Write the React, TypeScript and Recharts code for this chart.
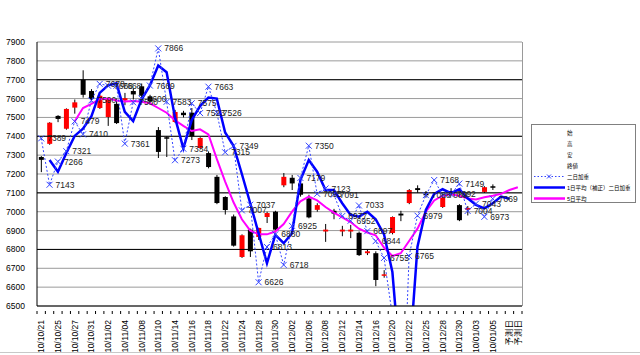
import React from "react";
import {
  ComposedChart,
  Bar,
  Line,
  XAxis,
  YAxis,
  CartesianGrid,
  ReferenceLine,
  LabelList,
} from "recharts";

const dates = [
  "10/10/21", "10/10/22", "10/10/25", "10/10/26", "10/10/27", "10/10/28", "10/10/31", "10/11/01",
  "10/11/02", "10/11/03", "10/11/04", "10/11/05", "10/11/08", "10/11/09", "10/11/10", "10/11/11",
  "10/11/14", "10/11/15", "10/11/16", "10/11/17", "10/11/18", "10/11/19", "10/11/22", "10/11/23",
  "10/11/24", "10/11/25", "10/11/28", "10/11/29", "10/11/30", "10/12/01", "10/12/02", "10/12/03",
  "10/12/06", "10/12/07", "10/12/08", "10/12/09", "10/12/12", "10/12/13", "10/12/14", "10/12/15",
  "10/12/16", "10/12/17", "10/12/20", "10/12/21", "10/12/22", "10/12/24", "10/12/25", "10/12/27",
  "10/12/28", "10/12/29", "10/12/30", "10/12/31", "10/01/03", "10/01/04", "10/01/05", "予測日",
  "予測日", "予測日",
];
// categories that carry a visible label
const shownTicks = [
  0, 2, 4, 6, 8, 10, 12, 14, 16, 18, 20, 22, 24, 26, 28, 30, 32, 34, 36, 38, 40, 42, 44, 46, 48,
  50, 52, 54, 56, 57,
];

const openVals = [
  7290, 7360, 7508, 7440, 7552, 7700, 7640, 7550, 7502, 7572, 7590, 7640, 7665, 7610, 7433, 7395,
  7476, 7525, 7525, 7338, 7311, 7185, 7078, 6975, 6760, 6905, 6866, 6972, 7000, 7140, 7180, 7150,
  7070, 7010, 6895, 7005, 6895, 6895, 6888, 6780, 6780, 6660, 6887, 6990, 7046, 7125, 7095, null,
  7025, 7110, 7035, 7010, null, 7105, 7135, null, null, null,
];
const highVals = [
  7295, 7475, 7512, 7548, 7595, 7750, 7650, 7620, 7600, 7600, 7630, 7655, 7680, 7620, 7449, 7400,
  7540, 7535, 7550, 7395, 7320, 7195, 7082, 6985, 6880, 6910, 6915, 7000, 7005, 7205, 7195, 7155,
  7090, 7045, 6935, 7015, 6925, 6930, 6895, 6800, 6790, 6690, 6975, 7005, 7120, 7140, 7110, null,
  7080, 7125, 7040, 7030, null, 7135, 7145, null, null, null,
];
const lowVals = [
  7210, 7355, 7475, 7435, 7520, 7605, 7590, 7545, 7455, 7465, 7565, 7595, 7600, 7575, 7285, 7290,
  7470, 7500, 7380, 7330, 7230, 7040, 6985, 6815, 6755, 6760, 6850, 6940, 6890, 7130, 7115, 7080,
  6965, 7000, 6840, 6960, 6870, 6860, 6765, 6770, 6605, 6650, 6880, 6950, 7040, 7100, 7075, null,
  7020, 7090, 6950, 6980, null, 7100, 7115, null, null, null,
];
const closeVals = [
  7275, 7472, 7492, 7545, 7580, 7620, 7598, 7615, 7598, 7470, 7602, 7622, 7615, 7585, 7317, 7390,
  7529, 7512, 7400, 7391, 7237, 7046, 7009, 6820, 6875, 6790, 6914, 6993, 6905, 7185, 7150, 7090,
  6970, 7035, 6905, 6990, 6905, 6905, 6770, 6790, 6638, 6668, 6972, 6980, 7115, 7115, 7090, null,
  7075, 7100, 6955, 7020, null, 7130, 7128, null, null, null,
];

// 二日加重 (dotted, X markers, labelled)
const weighted = [
  7389, 7143, 7266, 7321, 7479, 7410, 7590, 7678, 7668, 7668, 7361, 7580, 7600, 7669, 7866, 7583,
  7273, 7334, 7575, 7523, 7663, 7526, 7315, 7349, 7007, 7037, 6626, 6813, 6880, 6718, 6925, 7179,
  7350, 7095, 7123, 7091, 6977, 6952, 7033, 6897, 6844, 6755, 6450, 5600, 6765, 6979, 7088, 7168,
  7089, 7092, 7149, 7004, 7043, 6973, 7069, null, null, null,
];
// blue solid
const forecast = [
  null, 7274, 7212, 7310, 7402, 7440, 7505, 7630, 7670, 7681, 7530, 7480, 7595, 7670, 7775, 7740,
  7500, 7336, 7486, 7560, 7605, 7600, 7420, 7350, 7200, 7045, 6886, 6727, 6877, 6833, 6886, 7168,
  7274, 7212, 7115, 7115, 7045, 6983, 6974, 7000, 6960, 6880, 6680, 6150, 6200, 6815, 7009, 7095,
  7119, 7098, 7119, 7071, 7036, 7018, 7045, 7080, 7069, null,
];
// magenta
const avg5 = [
  null, null, null, null, 7478, 7550, 7572, 7597, 7600, 7590, 7585, 7587, 7583, 7575, 7550, 7525,
  7485, 7455, 7428, 7437, 7410, 7280, 7160, 7050, 6960, 6900, 6880, 6880, 6895, 6935, 7000, 7055,
  7080, 7060, 7025, 6995, 6970, 6945, 6910, 6890, 6875, 6810, 6765, 6780, 6845, 6910, 7000, 7060,
  7085, 7093, 7085, 7070, 7065, 7077, 7085, 7095, 7115, 7130,
];

const yTicks = [6500, 6600, 6700, 6800, 6900, 7000, 7100, 7200, 7300, 7400, 7500, 7600, 7700, 7800, 7900];
const darkLines = [6800, 7100, 7400, 7700];

const data = dates.map((d, i) => ({
  idx: i,
  date: d,
  open: openVals[i],
  high: highVals[i],
  low: lowVals[i],
  close: closeVals[i],
  weighted: weighted[i],
  forecast: forecast[i],
  avg5: avg5[i],
}));

const FONT = "'Liberation Sans', 'Noto Sans CJK JP', sans-serif";

function Candle(props: any) {
  const { x, y, width, height, payload } = props;
  if (!payload || payload.open == null) return null;
  const { open, close, high, low } = payload;
  const top = Math.min(y, y + height);
  const h = Math.abs(height);
  const span = high - low;
  const yv = (v: number) => (span === 0 ? top : top + ((high - v) / span) * h);
  const cx = x + width / 2;
  const bTop = yv(Math.max(open, close));
  const bBot = yv(Math.min(open, close));
  const up = close > open;
  return (
    <g>
      <line x1={cx} x2={cx} y1={top} y2={top + h} stroke="#000" strokeWidth={1} />
      <rect
        x={cx - 2.5}
        y={bTop}
        width={5}
        height={Math.max(bBot - bTop, 1.5)}
        fill={up ? "#ff0000" : "#000000"}
      />
    </g>
  );
}

function XMark(props: any) {
  const { cx, cy, value } = props;
  if (value == null || cx == null || cy == null) return null;
  if (value < 6500) return null;
  const s = 3;
  return (
    <g stroke="#3344ff" strokeWidth={1}>
      <line x1={cx - s} y1={cy - s} x2={cx + s} y2={cy + s} />
      <line x1={cx - s} y1={cy + s} x2={cx + s} y2={cy - s} />
    </g>
  );
}

function ValueLabel(props: any) {
  const { x, y, value } = props;
  if (value == null || value < 6500) return null;
  return (
    <text x={x + 6} y={y + 3} fontSize={8.5} fill="#222" fontFamily={FONT}>
      {value}
    </text>
  );
}

function DateTick(props: any) {
  const { x, y, payload } = props;
  const i = payload.value as number;
  const w = 485 / dates.length;
  return (
    <g>
      <line x1={x - w / 2} x2={x - w / 2} y1={y - 3} y2={y} stroke="#000" />
      {i === dates.length - 1 && (
        <line x1={x + w / 2} x2={x + w / 2} y1={y - 3} y2={y} stroke="#000" />
      )}
      {shownTicks.includes(i) && (
        <text
          x={0}
          y={0}
          transform={`translate(${x + 3},${y + 6}) rotate(-90)`}
          textAnchor="end"
          fontSize={8.5}
          fill="#000"
          fontFamily={FONT}
        >
          {dates[i]}
        </text>
      )}
    </g>
  );
}

function PriceTick(props: any) {
  const { x, y, payload } = props;
  return (
    <text x={x - 4} y={y + 3} textAnchor="end" fontSize={8.5} fill="#000" fontFamily={FONT}>
      {payload.value}
    </text>
  );
}

const legendRows = [
  { label: "始", kind: "none" },
  { label: "高", kind: "none" },
  { label: "安", kind: "none" },
  { label: "終値", kind: "none" },
  { label: "二日加重", kind: "dotted" },
  { label: "1日平均（補正）二日加重", kind: "blue" },
  { label: "5日平均", kind: "magenta" },
];

function LegendBox() {
  return (
    <div
      style={{
        position: "absolute",
        left: 531,
        top: 124,
        width: 103,
        height: 77,
        border: "1px solid #808080",
        background: "#fff",
        fontFamily: FONT,
        fontSize: 5.5,
      }}
    >
      {legendRows.map((r, i) => (
        <div
          key={i}
          style={{ position: "absolute", left: 0, top: 2 + i * 11, height: 11, width: 103 }}
        >
          <svg width={34} height={11} style={{ position: "absolute", left: 1, top: 0 }}>
            {r.kind === "dotted" && (
              <g>
                <line x1={1} x2={32} y1={5.5} y2={5.5} stroke="#3344ff" strokeDasharray="1.5 2" />
                <line x1={14} y1={3.5} x2={18} y2={7.5} stroke="#3344ff" />
                <line x1={14} y1={7.5} x2={18} y2={3.5} stroke="#3344ff" />
              </g>
            )}
            {r.kind === "blue" && (
              <line x1={1} x2={32} y1={5.5} y2={5.5} stroke="#0000ff" strokeWidth={2.5} />
            )}
            {r.kind === "magenta" && (
              <line x1={1} x2={32} y1={5.5} y2={5.5} stroke="#ff00ff" strokeWidth={2.5} />
            )}
          </svg>
          <span style={{ position: "absolute", left: 35, top: 2, whiteSpace: "nowrap" }}>
            {r.label}
          </span>
        </div>
      ))}
    </div>
  );
}

export default function App() {
  return (
    <div
      style={{
        position: "fixed",
        left: 0,
        top: 0,
        width: 640,
        height: 355,
        background: "#fff",
        overflow: "hidden",
      }}
    >
      <ComposedChart
        width={640}
        height={355}
        data={data}
        margin={{ top: 42, right: 118, bottom: 0, left: 0 }}
      >
        <CartesianGrid vertical={false} stroke="#9a9a9a" strokeWidth={1} />
        {darkLines.map((v) => (
          <ReferenceLine key={v} y={v} stroke="#000" strokeWidth={1} />
        ))}
        <XAxis
          dataKey="idx"
          type="category"
          interval={0}
          height={49}
          tickLine={false}
          axisLine={{ stroke: "#000" }}
          tick={<DateTick />}
        />
        <YAxis
          type="number"
          domain={[6500, 7900]}
          ticks={yTicks}
          allowDataOverflow
          width={37}
          interval={0}
          tickLine={false}
          axisLine={{ stroke: "#000" }}
          tick={<PriceTick />}
        />
        <Bar
          dataKey={(d: any) => (d.open == null ? null : [d.low, d.high])}
          shape={<Candle />}
          isAnimationActive={false}
        />
        <Line
          type="linear"
          dataKey="avg5"
          stroke="#ff00ff"
          strokeWidth={2}
          dot={false}
          connectNulls={false}
          isAnimationActive={false}
        />
        <Line
          type="linear"
          dataKey="forecast"
          stroke="#0000ff"
          strokeWidth={2.5}
          dot={false}
          isAnimationActive={false}
        />
        <Line
          type="linear"
          dataKey="weighted"
          stroke="#3344ff"
          strokeWidth={1}
          strokeDasharray="2 2"
          dot={<XMark />}
          isAnimationActive={false}
        >
          <LabelList dataKey="weighted" content={<ValueLabel />} />
        </Line>
      </ComposedChart>
      <div
        style={{
          position: "absolute",
          left: 522,
          top: 42,
          width: 1,
          height: 264,
          background: "#9a9a9a",
        }}
      />
      <LegendBox />
      <div
        style={{
          position: "absolute",
          left: 0,
          top: 352,
          width: 640,
          height: 1,
          background: "#c8c8c8",
        }}
      />
    </div>
  );
}
